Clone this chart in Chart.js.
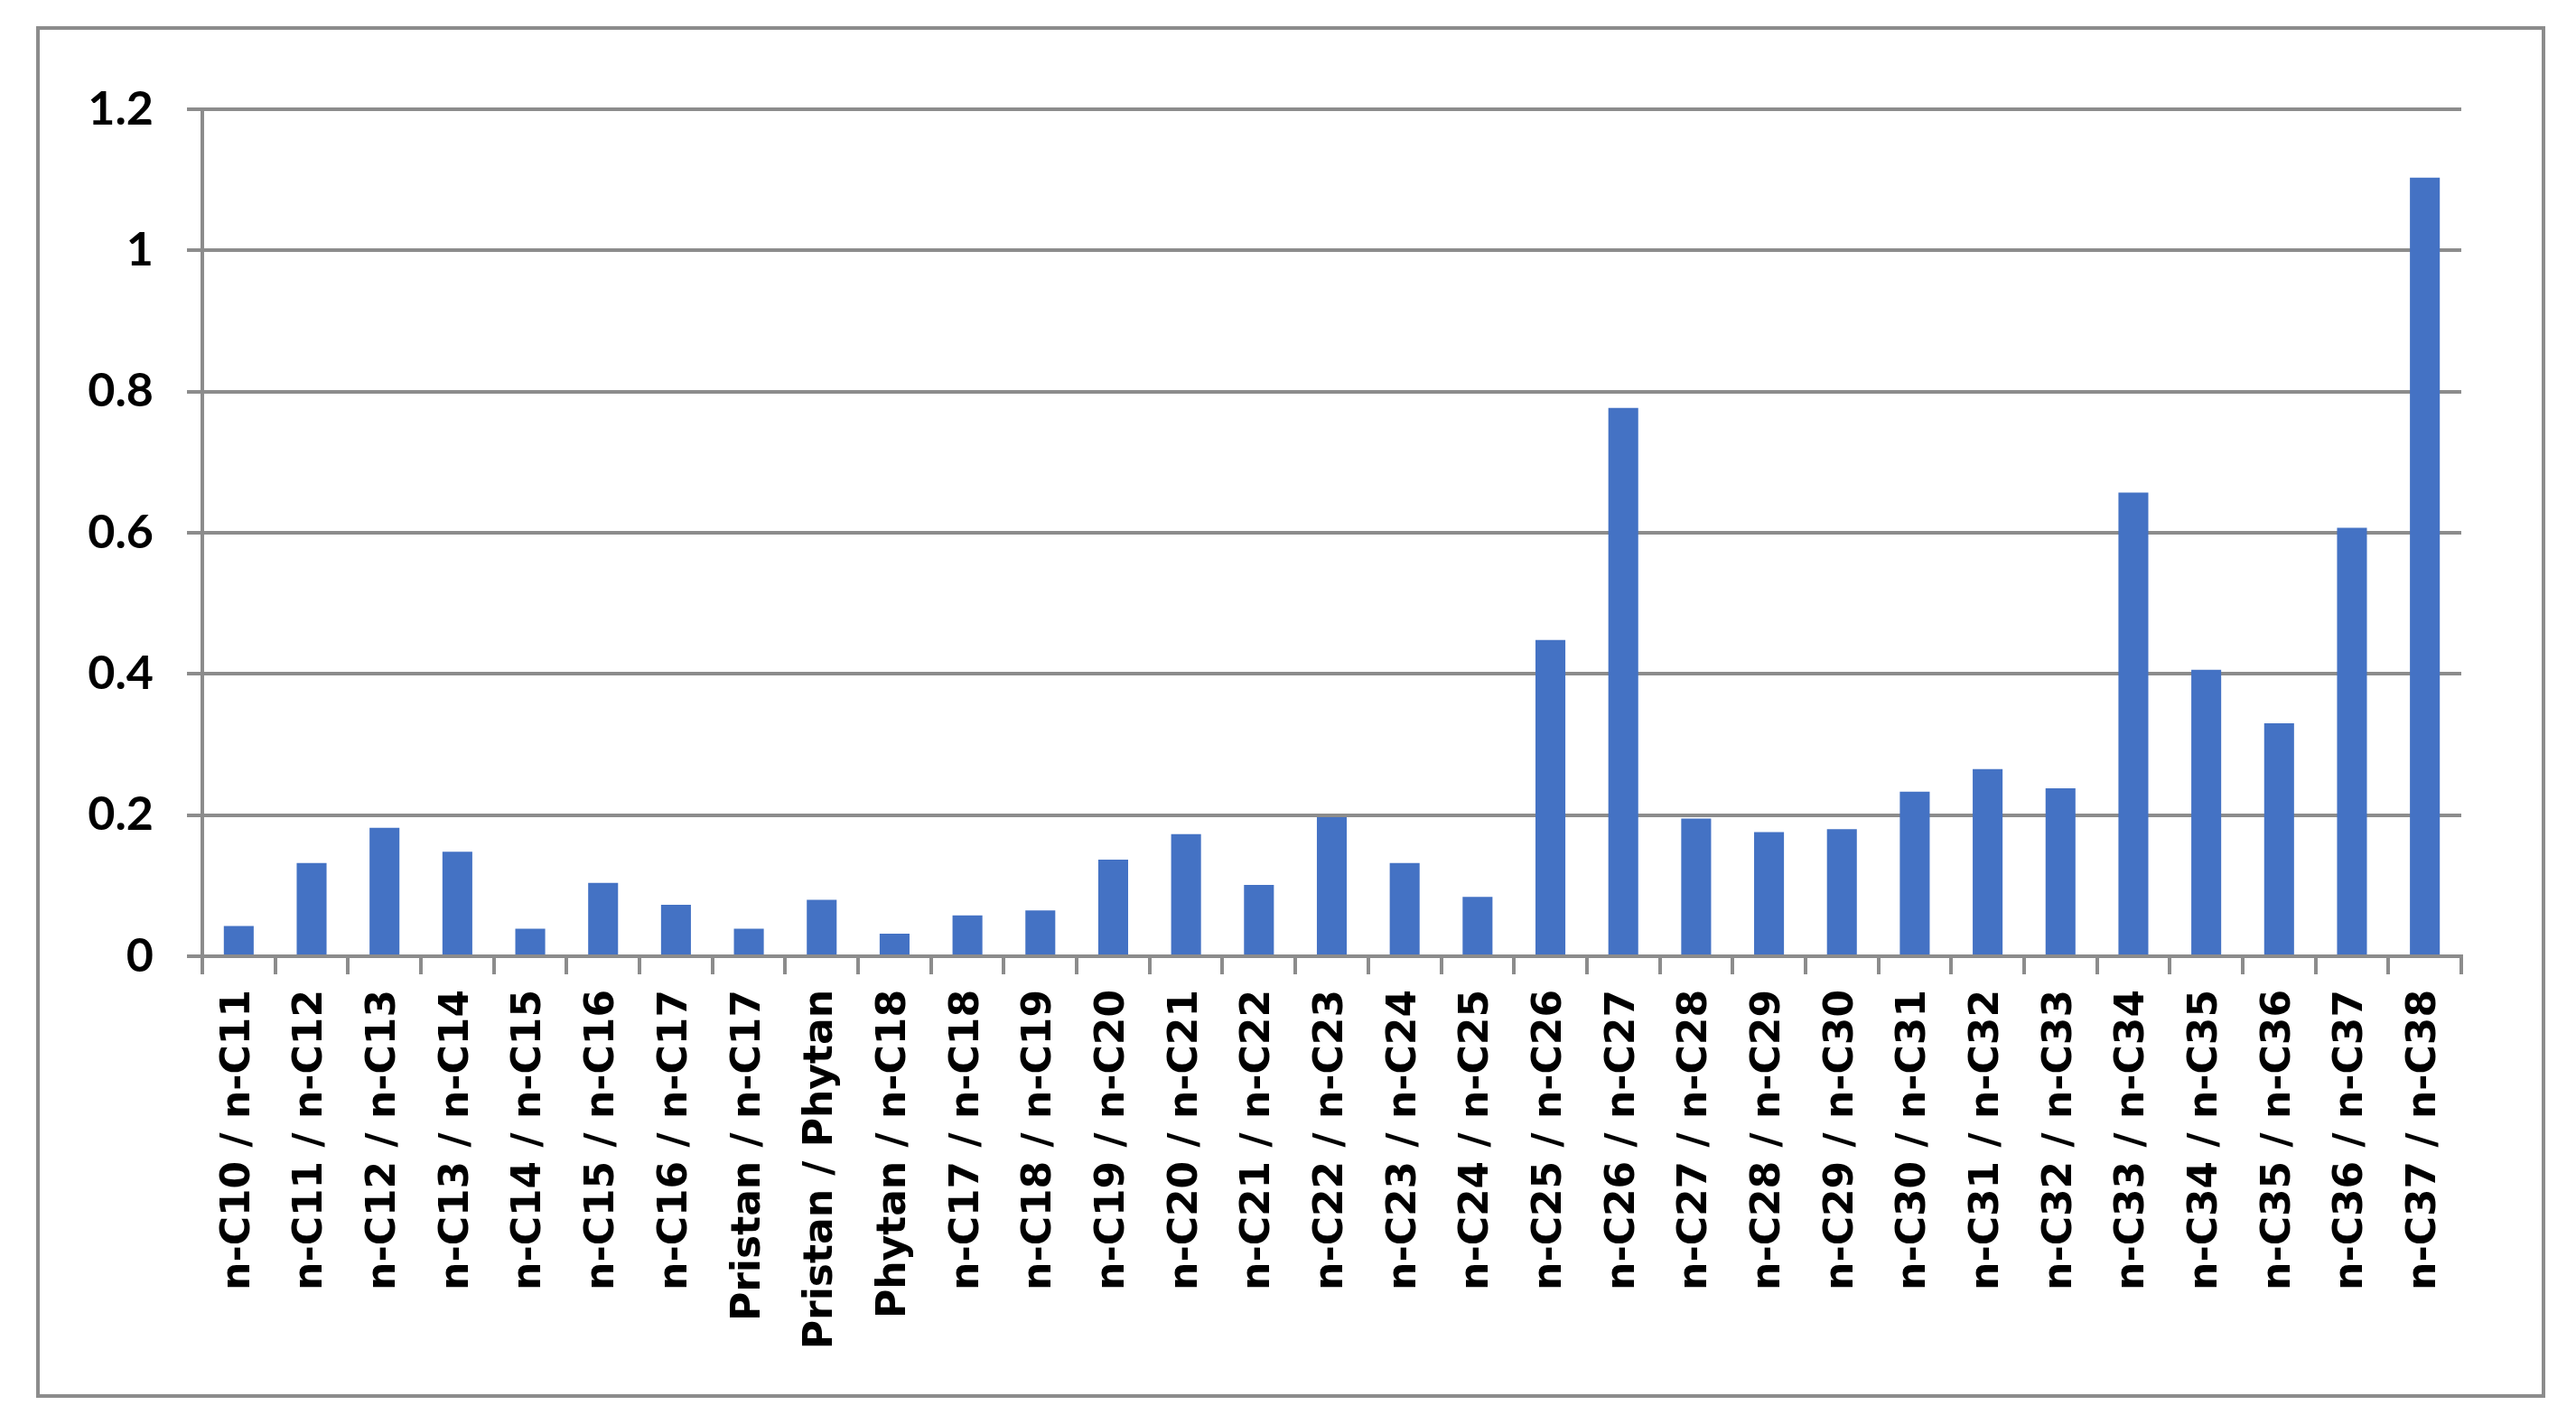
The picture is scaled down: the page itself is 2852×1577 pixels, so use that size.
<!DOCTYPE html>
<html>
<head>
    <style>
        body {
            margin: 0;
            overflow: hidden;
            background: #fff;
        }

        #chartBox {
            position: absolute;
            left: 0;
            top: 0;
            width: 2852px;
            height: 1577px;
        }

        #frame {
            position: absolute;
            left: 40px;
            top: 29px;
            width: 2778px;
            height: 1519px;
            border: 4px solid #8c8c8c;
            box-sizing: border-box;
            pointer-events: none;
        }
    </style>
    <script src="https://cdn.jsdelivr.net/npm/chart.js"></script>
</head>
<body>
    <div id="chartBox"><canvas id="ratioChart" width="2852" height="1577"></canvas></div>
    <div id="frame"></div>

    <script>
        const categories = [
            'n-C10 / n-C11', 'n-C11 / n-C12', 'n-C12 / n-C13', 'n-C13 / n-C14',
            'n-C14 / n-C15', 'n-C15 / n-C16', 'n-C16 / n-C17', 'Pristan / n-C17',
            'Pristan / Phytan', 'Phytan / n-C18', 'n-C17 / n-C18', 'n-C18 / n-C19',
            'n-C19 / n-C20', 'n-C20 / n-C21', 'n-C21 / n-C22', 'n-C22 / n-C23',
            'n-C23 / n-C24', 'n-C24 / n-C25', 'n-C25 / n-C26', 'n-C26 / n-C27',
            'n-C27 / n-C28', 'n-C28 / n-C29', 'n-C29 / n-C30', 'n-C30 / n-C31',
            'n-C31 / n-C32', 'n-C32 / n-C33', 'n-C33 / n-C34', 'n-C34 / n-C35',
            'n-C35 / n-C36', 'n-C36 / n-C37', 'n-C37 / n-C38'
        ];

        const ratios = [
            0.043, 0.132, 0.182, 0.148, 0.039, 0.104, 0.073, 0.039,
            0.080, 0.032, 0.058, 0.065, 0.137, 0.173, 0.101, 0.197,
            0.132, 0.084, 0.448, 0.777, 0.195, 0.176, 0.180, 0.233,
            0.265, 0.238, 0.657, 0.406, 0.330, 0.607, 1.103
        ];

        const yTicks = [0, 0.2, 0.4, 0.6, 0.8, 1, 1.2];

        const gray = '#8c8c8c';

        new Chart(document.getElementById('ratioChart'), {
            type: 'bar',
            data: {
                labels: categories,
                datasets: [{
                    data: ratios,
                    backgroundColor: '#4472c4',
                    borderWidth: 0,
                    barPercentage: 0.41,
                    categoryPercentage: 1
                }]
            },
            options: {
                responsive: false,
                animation: false,
                layout: {
                    padding: { left: 0, top: 121, right: 127, bottom: 0 }
                },
                plugins: {
                    legend: { display: false },
                    tooltip: { enabled: false }
                },
                scales: {
                    x: {
                        afterFit: scale => { scale.height = 518; },
                        grid: {
                            drawOnChartArea: false,
                            drawTicks: true,
                            tickLength: 20,
                            color: gray,
                            lineWidth: 4
                        },
                        border: { color: gray, width: 4 },
                        ticks: {
                            autoSkip: false,
                            minRotation: 90,
                            maxRotation: 90,
                            padding: 17,
                            color: '#000',
                            font: { family: 'DejaVu Sans', size: 44, weight: 'bold' }
                        }
                    },
                    y: {
                        min: 0,
                        max: 1.2,
                        afterFit: scale => { scale.width = 224; },
                        afterBuildTicks: scale => {
                            scale.ticks = yTicks.map(v => ({ value: v }));
                        },
                        grid: {
                            color: gray,
                            lineWidth: 4,
                            tickLength: 17
                        },
                        border: { color: gray, width: 4 },
                        ticks: {
                            padding: 37,
                            color: '#000',
                            font: { family: 'Lato', size: 52, weight: 'bold' },
                            callback: v => String(v)
                        }
                    }
                }
            }
        });
    </script>
</body>
</html>
